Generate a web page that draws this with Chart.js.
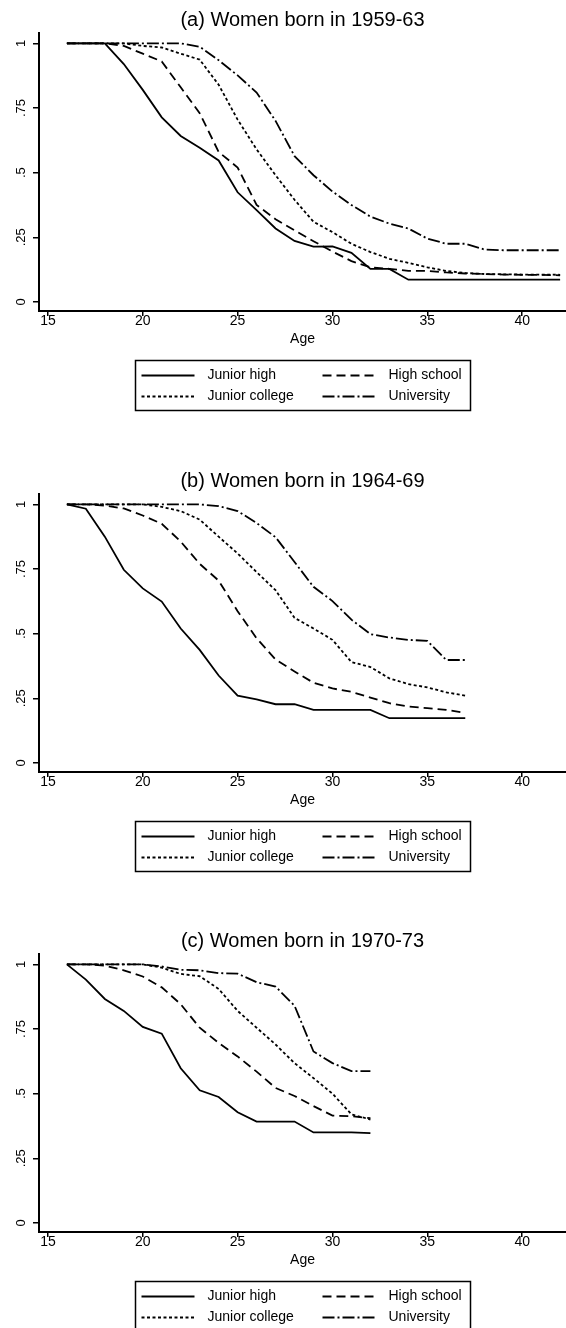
<!DOCTYPE html>
<html>
<head>
<meta charset="utf-8">
<title>Women born in 1959-73</title>
<script src="https://cdn.jsdelivr.net/npm/chart.js@4.4.1/dist/chart.umd.min.js"></script>
<style>
  html, body { margin: 0; padding: 0; background: #fff; overflow: hidden; }
  body { width: 566px; height: 1328px; position: relative; }
  canvas { position: absolute; left: 0; }
  #graficoA { top: 0; }
  #graficoB { top: 461px; }
  #graficoC { top: 921px; }
</style>
</head>
<body>
<canvas id="graficoA" width="566" height="461"></canvas>
<canvas id="graficoB" width="566" height="461"></canvas>
<canvas id="graficoC" width="566" height="461"></canvas>
<script>
// dados
const seriesLabels = ['Junior high', 'High school', 'Junior college', 'University'];
const xTicks = [15, 20, 25, 30, 35, 40];
const yTicks = [0, 0.25, 0.5, 0.75, 1];
const yTickLabels = ['0', '.25', '.5', '.75', '1'];
const xTitle = 'Age';

const titleA = '(a) Women born in 1959-63';
const agesA = [16, 17, 18, 19, 20, 21, 22, 23, 24, 25, 26, 27, 28, 29, 30, 31, 32, 33, 34, 35, 36, 37, 38, 39, 40, 41, 42];
const juniorHighA = [1, 1, 1, 0.92, 0.82, 0.714, 0.642, 0.596, 0.547, 0.424, 0.355, 0.284, 0.236, 0.214, 0.215, 0.19, 0.128, 0.128, 0.086, 0.086, 0.086, 0.086, 0.086, 0.086, 0.086, 0.086, 0.086];
const highSchoolA = [1, 1, 1, 0.99, 0.96, 0.93, 0.83, 0.73, 0.58, 0.52, 0.375, 0.32, 0.277, 0.235, 0.195, 0.158, 0.134, 0.128, 0.12, 0.12, 0.114, 0.11, 0.108, 0.106, 0.105, 0.105, 0.103];
const juniorCollegeA = [1, 1, 1, 1, 0.99, 0.984, 0.96, 0.937, 0.84, 0.705, 0.59, 0.49, 0.395, 0.31, 0.27, 0.225, 0.193, 0.167, 0.151, 0.134, 0.12, 0.112, 0.108, 0.107, 0.106, 0.106, 0.105];
const universityA = [1, 1, 1, 1, 1, 1, 1, 0.987, 0.935, 0.876, 0.81, 0.70, 0.564, 0.49, 0.427, 0.375, 0.33, 0.303, 0.284, 0.245, 0.225, 0.225, 0.203, 0.2, 0.2, 0.2, 0.2];

const titleB = '(b) Women born in 1964-69';
const agesB = [16, 17, 18, 19, 20, 21, 22, 23, 24, 25, 26, 27, 28, 29, 30, 31, 32, 33, 34, 35, 36, 37];
const juniorHighB = [1, 0.983, 0.875, 0.747, 0.675, 0.624, 0.52, 0.437, 0.338, 0.26, 0.246, 0.227, 0.227, 0.205, 0.205, 0.205, 0.205, 0.173, 0.173, 0.173, 0.173, 0.173];
const highSchoolB = [1, 1, 0.995, 0.984, 0.957, 0.925, 0.856, 0.77, 0.705, 0.587, 0.482, 0.40, 0.354, 0.31, 0.288, 0.275, 0.253, 0.231, 0.218, 0.212, 0.205, 0.194];
const juniorCollegeB = [1, 1, 1, 1, 1, 0.99, 0.974, 0.941, 0.875, 0.81, 0.738, 0.668, 0.561, 0.52, 0.476, 0.39, 0.371, 0.327, 0.305, 0.292, 0.273, 0.26];
const universityB = [1, 1, 1, 1, 1, 1, 1, 1, 0.993, 0.974, 0.928, 0.873, 0.777, 0.681, 0.626, 0.554, 0.498, 0.485, 0.476, 0.472, 0.398, 0.398];

const titleC = '(c) Women born in 1970-73';
const agesC = [16, 17, 18, 19, 20, 21, 22, 23, 24, 25, 26, 27, 28, 29, 30, 31, 32];
const juniorHighC = [1, 0.941, 0.866, 0.82, 0.758, 0.732, 0.598, 0.513, 0.487, 0.428, 0.392, 0.392, 0.392, 0.35, 0.35, 0.35, 0.347];
const highSchoolC = [1, 1, 0.995, 0.977, 0.953, 0.911, 0.846, 0.755, 0.696, 0.644, 0.585, 0.522, 0.491, 0.452, 0.415, 0.413, 0.405];
const juniorCollegeC = [1, 1, 1, 1, 1, 0.987, 0.963, 0.954, 0.905, 0.82, 0.755, 0.69, 0.618, 0.56, 0.50, 0.42, 0.40];
const universityC = [1, 1, 1, 1, 1, 0.992, 0.979, 0.977, 0.966, 0.964, 0.931, 0.914, 0.84, 0.663, 0.618, 0.587, 0.587];

Chart.defaults.font.family = '"Liberation Sans", Arial, sans-serif';
Chart.defaults.color = '#000';

const dashes = [[], [9, 5], [3, 2.5], [12, 3, 2, 3]];

// legenda com caixa, 2 colunas, desenhada abaixo do eixo
const legendaCaixa = {
  id: 'legendaCaixa',
  afterDraw(chart) {
    const ctx = chart.ctx;
    const area = chart.chartArea;
    const left = Math.round((area.left + area.right) / 2 - 168) + 0.5;
    const top = Math.round(area.bottom + 49) + 0.5;

    ctx.save();
    ctx.strokeStyle = '#000';
    ctx.lineWidth = 1.5;
    ctx.setLineDash([]);
    ctx.strokeRect(left, top, 335, 50);

    ctx.font = '14px "Liberation Sans", Arial, sans-serif';
    ctx.fillStyle = '#000';
    ctx.textBaseline = 'middle';
    chart.data.datasets.forEach((ds, i) => {
      const col = i % 2;
      const row = Math.floor(i / 2);
      const x = left + 6 + col * 181;
      const y = top + 15 + row * 21;
      ctx.lineWidth = ds.borderWidth;
      ctx.setLineDash(ds.borderDash);
      ctx.beginPath();
      ctx.moveTo(x, y);
      ctx.lineTo(x + 53, y);
      ctx.stroke();
      ctx.fillText(ds.label, x + 66, y);
    });
    ctx.restore();
  }
};

function toPoints(ages, values) {
  return ages.map((a, i) => ({ x: a, y: values[i] }));
}

function geraGrafico(id, title, ages, series) {
  const canva = document.getElementById(id);

  const axisGrid = {
    display: true,
    drawOnChartArea: false,
    drawTicks: true,
    color: '#000',
    lineWidth: 1.5
  };
  const axisBorder = { display: true, color: '#000', width: 2 };

  new Chart(canva, {
    type: 'line',
    data: {
      datasets: series.map((values, i) => ({
        label: seriesLabels[i],
        data: toPoints(ages, values),
        borderColor: '#000',
        borderWidth: 1.8,
        borderDash: dashes[i],
        pointRadius: 0,
        tension: 0,
        fill: false
      }))
    },
    options: {
      responsive: false,
      animation: false,
      events: [],
      layout: { padding: { left: 11.4, right: 0, top: 0, bottom: 113.4 } },
      plugins: {
        legend: { display: false },
        tooltip: { enabled: false },
        title: {
          display: true,
          text: title,
          fullSize: false,
          font: { size: 20, weight: 'normal' },
          padding: { top: 8, bottom: 1 }
        }
      },
      scales: {
        x: {
          type: 'linear',
          min: 14.53,
          max: 42.31,
          afterBuildTicks: scale => { scale.ticks = xTicks.map(v => ({ value: v })); },
          grid: { ...axisGrid, tickLength: 5 },
          border: axisBorder,
          ticks: { font: { size: 14 }, padding: -3, maxRotation: 0, autoSkip: false, callback: v => String(v) },
          title: { display: true, text: xTitle, font: { size: 14 }, padding: { top: 4, bottom: 0 } }
        },
        y: {
          type: 'linear',
          min: -0.035,
          max: 1.04,
          afterBuildTicks: scale => { scale.ticks = yTicks.map(v => ({ value: v })); },
          grid: { ...axisGrid, tickLength: 6 },
          border: axisBorder,
          ticks: {
            font: { size: 13 },
            padding: 3,
            minRotation: 90,
            maxRotation: 90,
            crossAlign: 'center',
            autoSkip: false,
            callback: v => yTickLabels[yTicks.indexOf(v)]
          }
        }
      }
    },
    plugins: [legendaCaixa]
  });
}

geraGrafico('graficoA', titleA, agesA, [juniorHighA, highSchoolA, juniorCollegeA, universityA]);
geraGrafico('graficoB', titleB, agesB, [juniorHighB, highSchoolB, juniorCollegeB, universityB]);
geraGrafico('graficoC', titleC, agesC, [juniorHighC, highSchoolC, juniorCollegeC, universityC]);
</script>
</body>
</html>
